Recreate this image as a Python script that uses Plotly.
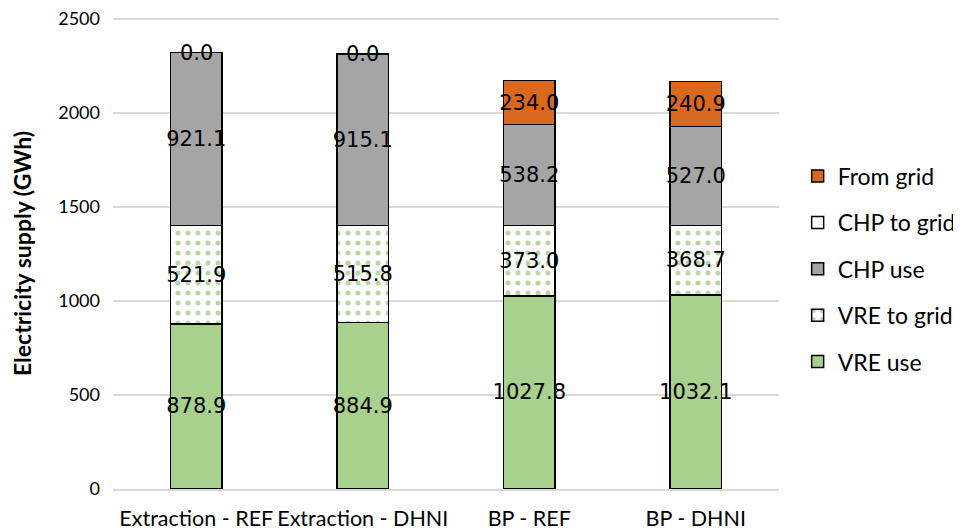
import plotly.graph_objects as go

categories = ["Extraction - REF", "Extraction - DHNI", "BP - REF", "BP - DHNI"]
vre_use = [878.9, 884.9, 1027.8, 1032.1]
vre_to_grid = [521.9, 515.8, 373.0, 368.7]
chp_use = [921.1, 915.1, 538.2, 527.0]
chp_to_grid = [0.0, 0.0, 0.0, 0.0]
from_grid = [0.0, 0.0, 234.0, 240.9]

series = [
    ("VRE use", vre_use, dict(color="#A9D18E"), True),
    ("VRE to grid", vre_to_grid, dict(color="white", pattern=dict(shape=".", fgcolor="#70AD47", bgcolor="white", size=10, solidity=0.2)), True),
    ("CHP use", chp_use, dict(color="#A5A5A5"), True),
    ("CHP to grid", chp_to_grid, dict(color="white"), False),
    ("From grid", from_grid, dict(color="#D9691E"), True),
]

label_font = dict(family="DejaVu Sans", size=21, color="black")

fig = go.Figure()
n = len(series)
for i, (name, vals, mk, lab) in enumerate(series):
    texts = [f"{v:.1f}" if (lab and v > 0) else "" for v in vals]
    fig.add_trace(go.Bar(
        x=categories, y=vals, name=name,
        marker=dict(**mk, line=dict(color="black", width=1.5)),
        text=texts, textposition="inside", insidetextanchor="middle",
        textangle=0, textfont=label_font,
        legendgroup=name, legendrank=n - i,
    ))

# zero-height labels at top of stacks
totals = [a + b + c + d for a, b, c, d in zip(vre_use, vre_to_grid, chp_use, chp_to_grid)]
for cat, tot, fg in zip(categories, totals, from_grid):
    if fg == 0:
        fig.add_annotation(x=cat, y=tot, text=f"{fg:.1f}", showarrow=False,
                           font=label_font, yanchor="middle", xanchor="center")

fig.update_layout(
    barmode="stack", bargap=0.69,
    width=953, height=524,
    margin=dict(l=105, r=182, t=10, b=43, autoexpand=False),
    plot_bgcolor="white", paper_bgcolor="white",
    font=dict(family="Lato", color="black"),
    uniformtext=dict(minsize=21, mode="show"),
    legend=dict(traceorder="grouped", tracegroupgap=13.5,
                font=dict(family="Lato", size=23, color="black"),
                x=1.028, xanchor="left", y=0.467, yanchor="middle",
                itemwidth=30),
    xaxis=dict(showline=True, linecolor="#D9D9D9", linewidth=1.5, automargin=False,
               tickfont=dict(family="Lato", size=21.5, color="black"),
               ticklabelstandoff=9),
    yaxis=dict(range=[0, 2506], tickvals=[0, 500, 1000, 1500, 2000, 2500],
               showgrid=True, gridcolor="#D9D9D9", gridwidth=1.5,
               zeroline=False, automargin=False, ticklabeloverflow="allow",
               tickfont=dict(family="Lato", size=18, color="black"),
               ticklabelstandoff=12,
               title=dict(text="<b>Electricity supply (GWh)</b>", font=dict(family="Lato", size=23, color="black"), standoff=20)),
)

fig.write_html("out.html")
